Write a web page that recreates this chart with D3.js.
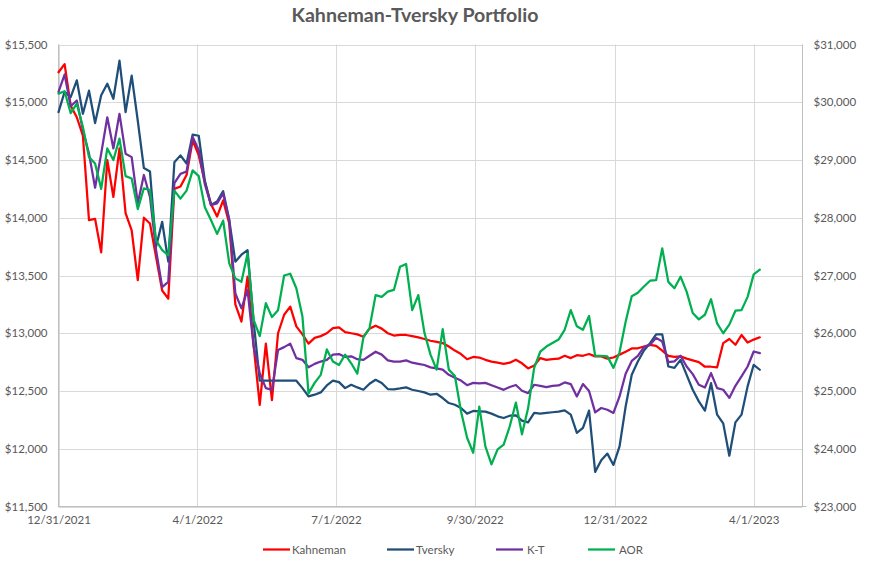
<!DOCTYPE html>
<html><head><meta charset="utf-8">
<script src="https://cdn.jsdelivr.net/npm/d3@7"></script>
<style>
body{margin:0;background:#fff}
text{font-family:Lato,"Open Sans",sans-serif;fill:#595959}
</style>
</head><body>
<svg id="chart" width="879" height="577"></svg>
<script>
const dates = ["2021-12-31","2022-01-04","2022-01-08","2022-01-12","2022-01-16","2022-01-20","2022-01-24","2022-01-28",
"2022-02-01","2022-02-05","2022-02-09","2022-02-13","2022-02-17","2022-02-21","2022-02-25",
"2022-03-01","2022-03-05","2022-03-09","2022-03-13","2022-03-17","2022-03-21","2022-03-25","2022-03-29",
"2022-04-02","2022-04-06","2022-04-10","2022-04-14","2022-04-18","2022-04-22","2022-04-26","2022-04-30",
"2022-05-04","2022-05-08","2022-05-12","2022-05-16","2022-05-20","2022-05-24","2022-05-28",
"2022-06-01","2022-06-05","2022-06-09","2022-06-13","2022-06-17","2022-06-21","2022-06-25","2022-06-29",
"2022-07-03","2022-07-07","2022-07-11","2022-07-15","2022-07-19","2022-07-23","2022-07-27","2022-07-31",
"2022-08-04","2022-08-08","2022-08-12","2022-08-16","2022-08-20","2022-08-24","2022-08-28",
"2022-09-01","2022-09-05","2022-09-09","2022-09-13","2022-09-17","2022-09-21","2022-09-25","2022-09-29",
"2022-10-03","2022-10-07","2022-10-11","2022-10-15","2022-10-19","2022-10-23","2022-10-27","2022-10-31",
"2022-11-04","2022-11-08","2022-11-12","2022-11-16","2022-11-20","2022-11-24","2022-11-28",
"2022-12-02","2022-12-06","2022-12-10","2022-12-14","2022-12-18","2022-12-22","2022-12-26","2022-12-30",
"2023-01-03","2023-01-07","2023-01-11","2023-01-15","2023-01-19","2023-01-23","2023-01-27","2023-01-31",
"2023-02-04","2023-02-08","2023-02-12","2023-02-16","2023-02-20","2023-02-24","2023-02-28",
"2023-03-04","2023-03-08","2023-03-12","2023-03-16","2023-03-20","2023-03-24","2023-03-28",
"2023-04-01","2023-04-05"];

const kahneman = [15260,15330,14970,14870,14710,13980,13990,13700,14500,14180,
14600,14040,13890,13460,14000,13950,13660,13370,13300,14250,
14270,14370,14670,14540,14310,14120,14010,14150,13950,13250,
13100,13490,12890,12380,12910,12420,13000,13160,13230,13060,
12990,12910,12960,12975,13000,13045,13050,13010,13000,12990,
12970,13040,13065,13040,13000,12980,12985,12985,12975,12965,
12950,12935,12925,12915,12885,12850,12820,12775,12795,12790,
12770,12755,12745,12735,12745,12770,12740,12695,12720,12785,
12770,12775,12780,12805,12785,12810,12805,12820,12800,12800,
12780,12790,12815,12840,12868,12870,12885,12900,12890,12850,
12805,12795,12800,12780,12765,12750,12710,12710,12705,12915,
12950,12900,12985,12920,12945,12965];

const tversky = [14915,15090,15045,15190,14900,15100,14820,15060,15160,15030,
15360,14915,15230,14840,14430,14400,13750,13965,13620,14480,
14540,14470,14720,14710,14320,14110,14140,14230,13980,13620,
13680,13720,13100,12589,12589,12589,12589,12589,12589,12589,
12525,12453,12468,12488,12548,12589,12577,12525,12554,12531,
12511,12563,12597,12569,12517,12515,12522,12531,12511,12500,
12488,12468,12476,12439,12396,12381,12353,12304,12327,12324,
12321,12304,12281,12266,12286,12290,12243,12228,12310,12304,
12310,12316,12321,12333,12295,12137,12180,12330,11800,11900,
11958,11860,12021,12366,12640,12755,12851,12914,12990,12990,
12712,12700,12770,12640,12511,12410,12330,12569,12295,12220,
11940,12228,12295,12540,12727,12684];

const kt = [15090,15240,14965,15015,14760,14555,14260,14555,14870,14600,
14900,14555,14525,14125,14370,14180,13720,13400,13445,14300,
14380,14400,14700,14585,14290,14110,14125,14210,13980,13345,
13215,13375,12885,12655,12525,12510,12855,12880,12910,12785,
12770,12705,12735,12755,12770,12815,12820,12795,12800,12775,
12770,12805,12840,12815,12765,12755,12755,12765,12745,12735,
12725,12705,12695,12685,12640,12615,12590,12550,12570,12565,
12570,12550,12530,12510,12535,12552,12502,12482,12554,12545,
12534,12545,12548,12574,12560,12453,12560,12500,12315,12353,
12338,12310,12453,12649,12760,12805,12880,12900,12960,12928,
12750,12756,12805,12712,12646,12554,12530,12655,12525,12511,
12440,12545,12626,12712,12842,12828];

const aor = [30150,30190,29810,29975,29570,29050,28940,28500,29200,29000,
29370,28720,28680,28150,28510,28480,27610,27440,27350,28470,
28330,28470,28820,28720,28180,27960,27720,27950,27210,26950,
26890,27380,26230,25950,26520,26280,26400,27000,27030,26780,
26290,24960,25140,25280,25720,25510,25450,25630,25480,25300,
25930,26090,26660,26630,26720,26750,27150,27200,26400,26660,
26010,25630,25370,26070,25370,25260,24650,24190,23930,24730,
24040,23730,23990,24070,24390,24800,24250,24700,25400,25680,
25770,25830,25890,26060,26400,26120,26060,26300,25610,25610,
25600,25400,25670,26200,26640,26700,26810,26910,26920,27470,
26890,26780,26980,26720,26350,26240,26320,26590,26170,26000,
26150,26390,26400,26630,27020,27100];

const leftTicks = [11500,12000,12500,13000,13500,14000,14500,15000,15500];
const rightTicks = [23000,24000,25000,26000,27000,28000,29000,30000,31000];
const xTickLabels = ["12/31/2021","4/1/2022","7/1/2022","9/30/2022","12/31/2022","4/1/2023"];
const seriesNames = ["Kahneman","Tversky","K-T","AOR"];
const seriesColors = ["#FF0000","#1F4E79","#7030A0","#00B050"];
const titleText = "Kahneman-Tversky Portfolio";

const svg = d3.select("#chart");
const parse = d3.timeParse("%Y-%m-%d");
const parseTick = d3.timeParse("%m/%d/%Y");
const dts = dates.map(parse);

const L = 58.5, R = 802.5, T = 44.5, B = 506.5;
const x = d3.scaleTime().domain([parse("2021-12-31"), parse("2023-05-03")]).range([L, R]);
const yL = d3.scaleLinear().domain([11500, 15500]).range([B, T]);
const yR = d3.scaleLinear().domain([23000, 31000]).range([B, T]);

const grid = "#d9d9d9";
// horizontal gridlines
svg.append("g").selectAll("line").data(leftTicks).join("line")
  .attr("x1", L).attr("x2", R).attr("y1", d => Math.round(yL(d)) + 0.5).attr("y2", d => Math.round(yL(d)) + 0.5)
  .attr("stroke", grid).attr("stroke-width", 1);
// vertical gridlines
const xt = xTickLabels.map(parseTick);
svg.append("g").selectAll("line").data(xt).join("line")
  .attr("x1", d => Math.round(x(d)) + 0.5).attr("x2", d => Math.round(x(d)) + 0.5)
  .attr("y1", T).attr("y2", B)
  .attr("stroke", grid).attr("stroke-width", 1);
// axis lines
svg.append("line").attr("x1", L).attr("x2", L).attr("y1", T).attr("y2", B + 0.5).attr("stroke", "#bfbfbf");
svg.append("line").attr("x1", R).attr("x2", R).attr("y1", T).attr("y2", B + 0.5).attr("stroke", "#bfbfbf");
svg.append("line").attr("x1", L).attr("x2", R + 4).attr("y1", B).attr("y2", B).attr("stroke", "#bfbfbf");

// axes labels via d3 axes
const fmt = d3.format("$,");
const gl = svg.append("g").attr("transform", `translate(${L - 11},0)`)
  .call(d3.axisLeft(yL).tickValues(leftTicks).tickFormat(fmt).tickSize(0).tickPadding(0));
gl.select(".domain").remove();
gl.selectAll("text").attr("font-size", 11.5).attr("font-family", "Lato, 'Open Sans', sans-serif").attr("fill", "#595959");

const gr = svg.append("g").attr("transform", `translate(${R + 11},0)`)
  .call(d3.axisRight(yR).tickValues(rightTicks).tickFormat(fmt).tickSize(0).tickPadding(0));
gr.select(".domain").remove();
gr.selectAll("text").attr("font-size", 11.5).attr("font-family", "Lato, 'Open Sans', sans-serif").attr("fill", "#595959");

const gx = svg.append("g").attr("transform", `translate(0,${B + 9})`)
  .call(d3.axisBottom(x).tickValues(xt).tickFormat(d3.timeFormat("%-m/%-d/%Y")).tickSize(0).tickPadding(0));
gx.select(".domain").remove();
gx.selectAll("text").attr("font-size", 11.5).attr("font-family", "Lato, 'Open Sans', sans-serif").attr("fill", "#595959");

// lines
const allSeries = [
  {vals: kahneman, y: yL},
  {vals: tversky, y: yL},
  {vals: kt, y: yL},
  {vals: aor, y: yR}
];
allSeries.forEach((s, i) => {
  const line = d3.line().x((d, j) => x(dts[j])).y(d => s.y(d));
  svg.append("path").datum(s.vals)
    .attr("d", line)
    .attr("fill", "none")
    .attr("stroke", seriesColors[i])
    .attr("stroke-width", 2.25)
    .attr("stroke-linejoin", "round")
    .attr("stroke-linecap", "round");
});

// title
const title = svg.append("text").attr("x", 415).attr("y", 21.5)
  .attr("text-anchor", "middle").attr("font-weight", "bold")
  .attr("font-size", 18.5).attr("fill", "#595959").text(titleText);
const tw = title.node().getComputedTextLength();
if (tw > 0) title.attr("font-size", 18.5 * 247 / tw);

// legend
const legendX = [263, 387, 496, 588];
const lg = svg.append("g");
seriesNames.forEach((n, i) => {
  lg.append("line").attr("x1", legendX[i]).attr("x2", legendX[i] + 27)
    .attr("y1", 549.5).attr("y2", 549.5)
    .attr("stroke", seriesColors[i]).attr("stroke-width", 2.25);
  lg.append("text").attr("x", legendX[i] + (n === "K-T" || n === "AOR" ? 31 : 29)).attr("y", 553.5)
    .attr("font-size", 11.5).attr("fill", "#595959").text(n);
});
</script>
</body></html>
